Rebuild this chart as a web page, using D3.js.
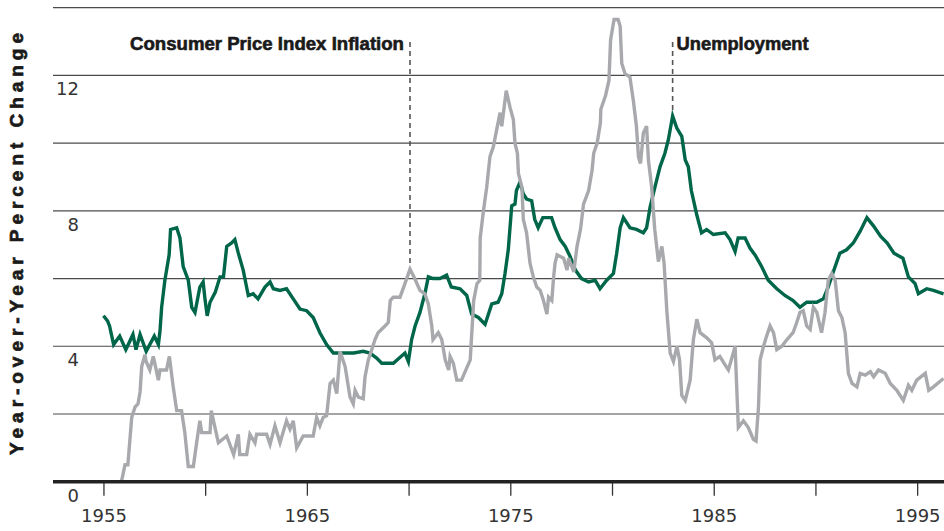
<!DOCTYPE html>
<html>
<head>
<meta charset="utf-8">
<script src="https://cdn.jsdelivr.net/npm/d3@7"></script>
<style>
  html, body { margin: 0; padding: 0; background: #fff; }
  svg { display: block; }
</style>
</head>
<body>
<div class="chart"></div>
<script>
// year-over-year percent change
var unemployment = [
  [1955.0,4.9],[1955.2,4.75],[1955.3,4.6],[1955.5,4.05],[1955.8,4.3],[1956.1,3.9],[1956.45,4.35],[1956.6,3.9],
  [1956.8,4.35],[1957.1,3.85],[1957.5,4.3],[1957.7,4.05],[1957.78,4.45],[1957.86,5.15],[1958.02,5.95],[1958.23,6.7],
  [1958.3,7.45],[1958.6,7.5],[1958.76,7.2],[1958.92,6.35],[1959.17,5.95],[1959.34,5.15],[1959.5,5.0],[1959.74,5.75],
  [1959.9,5.9],[1960.0,5.35],[1960.1,4.9],[1960.24,5.3],[1960.5,5.6],[1960.73,6.05],[1960.9,6.05],[1961.06,6.95],
  [1961.3,7.05],[1961.46,7.15],[1961.63,6.75],[1961.87,6.25],[1962.12,5.5],[1962.36,5.55],[1962.6,5.4],[1962.94,5.75],
  [1963.19,5.9],[1963.35,5.7],[1963.68,5.65],[1964.0,5.7],[1964.33,5.4],[1964.66,5.1],[1964.99,5.05],[1965.31,4.85],
  [1965.64,4.4],[1965.97,4.05],[1966.3,3.8],[1966.63,3.8],[1966.96,3.8],[1967.3,3.8],[1967.77,3.85],[1968.1,3.8],
  [1968.43,3.65],[1968.68,3.5],[1969.25,3.5],[1969.82,3.8],[1969.99,3.55],[1970.15,4.2],[1970.32,4.6],[1970.56,5.0],
  [1970.8,5.55],[1970.97,6.05],[1971.2,6.0],[1971.54,6.0],[1971.87,6.1],[1972.1,5.75],[1972.53,5.7],[1972.86,5.5],
  [1973.1,4.95],[1973.43,4.85],[1973.76,4.65],[1974.09,5.25],[1974.4,5.3],[1974.58,5.55],[1974.74,6.15],[1974.9,6.85],
  [1975.07,8.15],[1975.23,8.2],[1975.3,8.6],[1975.48,8.85],[1975.64,8.5],[1975.8,8.35],[1976.05,8.3],[1976.2,7.75],
  [1976.37,7.5],[1976.6,7.8],[1977.03,7.8],[1977.2,7.5],[1977.45,7.15],[1977.7,6.95],[1977.94,6.65],[1978.2,6.25],
  [1978.5,6.0],[1978.85,5.9],[1979.17,5.95],[1979.41,5.7],[1979.74,5.95],[1980.07,6.15],[1980.23,6.75],[1980.4,7.5],
  [1980.56,7.8],[1980.88,7.5],[1981.2,7.45],[1981.54,7.35],[1981.7,7.5],[1981.87,8.1],[1982.11,8.7],[1982.36,9.3],
  [1982.6,9.7],[1982.77,10.1],[1982.98,10.8],[1983.18,10.45],[1983.43,10.2],[1983.6,9.5],[1983.75,9.3],[1983.9,8.6],
  [1984.16,7.9],[1984.4,7.35],[1984.65,7.45],[1984.98,7.3],[1985.56,7.35],[1985.8,7.15],[1986.05,6.8],[1986.2,7.2],
  [1986.54,7.2],[1986.78,6.9],[1987.03,6.7],[1987.36,6.35],[1987.68,5.95],[1988.1,5.7],[1988.5,5.5],[1988.9,5.35],
  [1989.24,5.15],[1989.57,5.3],[1990.06,5.3],[1990.39,5.4],[1990.63,5.75],[1990.88,6.2],[1991.2,6.75],[1991.53,6.85],
  [1991.86,7.05],[1992.2,7.4],[1992.53,7.8],[1992.86,7.55],[1993.2,7.25],[1993.53,7.05],[1993.86,6.75],[1994.3,6.6],
  [1994.57,6.05],[1994.9,5.85],[1995.06,5.55],[1995.47,5.7],[1995.8,5.65],[1996.3,5.55]
];

var cpiInflation = [
  [1955.0,-0.5],[1955.5,-0.3],[1955.9,0.05],[1956.06,0.5],[1956.2,0.5],[1956.39,1.9],[1956.55,2.2],[1956.7,2.3],
  [1956.8,2.65],[1956.88,3.4],[1957.04,3.75],[1957.1,3.55],[1957.28,3.3],[1957.45,3.7],[1957.7,3.0],[1957.78,3.3],
  [1958.1,3.3],[1958.24,3.7],[1958.43,2.8],[1958.6,2.1],[1958.84,2.1],[1959.0,1.45],[1959.17,0.45],[1959.42,0.45],
  [1959.58,1.15],[1959.74,1.8],[1959.83,1.45],[1960.24,1.45],[1960.3,2.1],[1960.5,1.55],[1960.65,1.15],[1961.06,1.35],
  [1961.4,0.8],[1961.63,1.4],[1961.7,0.8],[1962.04,0.8],[1962.2,1.4],[1962.45,1.15],[1962.53,1.4],[1963.02,1.4],
  [1963.19,1.1],[1963.43,1.65],[1963.68,1.15],[1964.0,1.8],[1964.17,1.55],[1964.33,1.8],[1964.5,1.0],[1964.82,1.35],
  [1965.31,1.35],[1965.48,1.9],[1965.64,1.65],[1965.8,1.9],[1965.97,1.95],[1966.14,2.9],[1966.3,3.0],[1966.47,2.6],
  [1966.63,3.85],[1966.88,3.4],[1967.12,2.5],[1967.28,2.3],[1967.37,2.7],[1967.53,2.5],[1967.77,2.45],[1967.86,3.1],
  [1968.02,3.6],[1968.19,3.9],[1968.35,4.2],[1968.5,4.4],[1968.84,4.6],[1969.0,4.7],[1969.1,5.35],[1969.25,5.45],
  [1969.58,5.45],[1969.82,5.85],[1970.07,6.28],[1970.3,6.0],[1970.56,5.65],[1970.8,5.55],[1970.97,5.25],[1971.14,4.6],
  [1971.2,4.2],[1971.46,4.4],[1971.63,4.2],[1971.8,3.6],[1971.97,3.3],[1972.04,3.7],[1972.2,3.5],[1972.37,3.0],
  [1972.6,3.0],[1973.03,3.6],[1973.2,5.35],[1973.36,5.85],[1973.5,5.95],[1973.52,7.2],[1973.67,7.95],[1973.84,8.7],
  [1974.0,9.6],[1974.17,9.9],[1974.33,10.4],[1974.5,10.9],[1974.58,10.5],[1974.8,11.55],[1974.99,11.05],[1975.15,10.7],
  [1975.23,10.0],[1975.35,9.7],[1975.4,9.1],[1975.57,8.7],[1975.64,7.75],[1975.8,7.35],[1975.97,6.45],[1976.13,6.05],
  [1976.3,5.75],[1976.47,5.65],[1976.63,5.35],[1976.8,4.95],[1976.88,5.45],[1977.04,5.35],[1977.13,6.05],[1977.2,6.45],
  [1977.3,6.7],[1977.62,6.6],[1977.79,6.25],[1977.87,6.6],[1978.12,6.2],[1978.28,6.95],[1978.45,7.45],[1978.6,8.2],
  [1978.85,8.6],[1979.02,9.2],[1979.1,9.7],[1979.27,10.0],[1979.43,10.6],[1979.45,11.0],[1979.68,11.4],[1979.85,11.85],
  [1979.93,13.05],[1980.1,13.65],[1980.3,13.65],[1980.4,13.45],[1980.48,12.35],[1980.64,12.05],[1980.88,11.95],[1981.05,11.25],
  [1981.2,10.5],[1981.3,9.6],[1981.4,9.4],[1981.54,10.3],[1981.7,10.5],[1981.79,9.5],[1981.95,8.7],[1982.1,7.45],
  [1982.28,6.5],[1982.45,6.95],[1982.56,6.45],[1982.7,5.0],[1982.86,3.8],[1983.02,3.55],[1983.19,4.0],[1983.32,3.6],
  [1983.43,2.55],[1983.6,2.4],[1983.84,3.0],[1984.0,4.2],[1984.17,4.8],[1984.33,4.4],[1984.66,4.25],[1984.9,4.1],
  [1985.06,3.6],[1985.3,3.7],[1985.56,3.45],[1985.72,3.3],[1985.96,3.8],[1986.05,4.0],[1986.21,1.6],[1986.46,1.8],
  [1986.7,1.6],[1986.95,1.25],[1987.08,1.2],[1987.2,2.2],[1987.28,3.6],[1987.45,4.0],[1987.6,4.3],[1987.77,4.6],
  [1987.94,4.4],[1988.1,3.9],[1988.35,4.0],[1988.6,4.2],[1988.9,4.4],[1989.08,4.7],[1989.24,5.0],[1989.4,5.05],
  [1989.57,4.6],[1989.74,4.5],[1989.9,5.15],[1990.07,5.0],[1990.3,4.4],[1990.47,5.0],[1990.63,5.95],[1990.8,6.15],
  [1990.97,5.95],[1991.13,5.05],[1991.3,4.85],[1991.46,4.4],[1991.62,3.2],[1991.8,2.9],[1992.04,2.8],[1992.2,3.2],
  [1992.45,3.15],[1992.7,3.25],[1992.86,3.1],[1993.1,3.3],[1993.43,3.2],[1993.68,2.9],[1994.0,2.7],[1994.32,2.4],
  [1994.57,2.85],[1994.74,2.7],[1994.98,3.0],[1995.4,3.2],[1995.57,2.7],[1995.8,2.8],[1996.3,3.05]
];

var gridValues = [2, 4, 6, 8, 10, 12, 14];
var yTickLabels = [0, 4, 8, 12];
var xTickYears = [1955, 1960, 1965, 1970, 1975, 1980, 1985, 1990, 1995];
var xLabelYears = [1955, 1965, 1975, 1985, 1995];

var annotations = [
  { label: "Consumer Price Index Inflation", year: 1970.07, value: 6.28, side: "left", len: 274 },
  { label: "Unemployment", year: 1982.98, value: 10.8, side: "right", len: 132 }
];

var width = 944, height = 531;
var green = "#00664a", gray = "#a8a9ac";

var svg = d3.select("div.chart").append("svg")
  .attr("width", width)
  .attr("height", height);

var x = d3.scaleLinear().domain([1952.52, 1996.32]).range([53, width]);
var y = d3.scaleLinear().domain([0, 14]).range([481.7, 7.7]);

// grid
svg.append("g")
  .selectAll("line")
  .data(gridValues)
  .enter().append("line")
  .attr("x1", x.range()[0]).attr("x2", x.range()[1])
  .attr("y1", d => y(d)).attr("y2", d => y(d))
  .style("stroke", "#4a4a4a")
  .style("stroke-width", 1.2);

// y labels sit just under their gridline
svg.append("g")
  .selectAll("text")
  .data(yTickLabels)
  .enter().append("text")
  .attr("x", 79)
  .attr("y", d => y(d) + 20)
  .attr("text-anchor", "end")
  .style("font-family", "DejaVu Sans")
  .style("font-size", "18px")
  .style("fill", "#333")
  .text(d => d);

// x axis: ticks every 5 years, labels every 10
var xAxis = d3.axisBottom(x)
  .tickValues(xTickYears)
  .tickSize(14)
  .tickPadding(14)
  .tickFormat(d => xLabelYears.indexOf(d) >= 0 ? d : "");

var ax = svg.append("g")
  .attr("transform", "translate(0," + y(0) + ")")
  .call(xAxis);
ax.select(".domain").remove();
ax.selectAll(".tick line").style("stroke", "#333").style("stroke-width", 1.3);
ax.selectAll(".tick text")
  .style("font-family", "DejaVu Sans")
  .style("font-size", "18px")
  .style("fill", "#333");

// clip lines at the zero line
svg.append("clipPath").attr("id", "plot")
  .append("rect")
  .attr("x", x.range()[0]).attr("y", 0)
  .attr("width", width - x.range()[0]).attr("height", y(0));

var line = d3.line()
  .x(d => x(d[0]))
  .y(d => y(d[1]));

var lines = svg.append("g").attr("clip-path", "url(#plot)");
lines.append("path")
  .datum(unemployment)
  .attr("d", line)
  .style("fill", "none")
  .style("stroke", green)
  .style("stroke-width", 3.4)
  .style("stroke-linejoin", "miter");
lines.append("path")
  .datum(cpiInflation)
  .attr("d", line)
  .style("fill", "none")
  .style("stroke", gray)
  .style("stroke-width", 3.4)
  .style("stroke-linejoin", "miter");

// zero line
svg.append("line")
  .attr("x1", x.range()[0]).attr("x2", width)
  .attr("y1", y(0)).attr("y2", y(0))
  .style("stroke", "#222")
  .style("stroke-width", 3.5);

// annotations
var ann = svg.append("g").selectAll("g")
  .data(annotations)
  .enter().append("g");
ann.append("line")
  .attr("x1", d => x(d.year)).attr("x2", d => x(d.year))
  .attr("y1", 42).attr("y2", d => y(d.value) - 2)
  .style("stroke", "#555")
  .style("stroke-width", 1.6)
  .style("stroke-dasharray", "5,4");
ann.append("text")
  .attr("x", d => d.side == "left" ? x(d.year) - 6 : x(d.year) + 4)
  .attr("y", 50)
  .attr("text-anchor", d => d.side == "left" ? "end" : "start")
  .attr("textLength", d => d.len)
  .attr("lengthAdjust", "spacingAndGlyphs")
  .style("font-family", "Liberation Sans")
  .style("font-weight", "bold")
  .style("font-size", "18px")
  .style("fill", "#1a1a1a")
  .style("stroke", "#1a1a1a")
  .style("stroke-width", 0.6)
  .text(d => d.label);

// y title
svg.append("text")
  .attr("transform", "translate(23,455) rotate(-90)")
  .attr("textLength", 422)
  .attr("lengthAdjust", "spacing")
  .style("font-family", "Liberation Sans")
  .style("font-weight", "bold")
  .style("font-size", "19px")
  .style("fill", "#1a1a1a")
  .style("stroke", "#1a1a1a")
  .style("stroke-width", 0.7)
  .text("Year-over-Year Percent Change");
</script>
</body>
</html>
